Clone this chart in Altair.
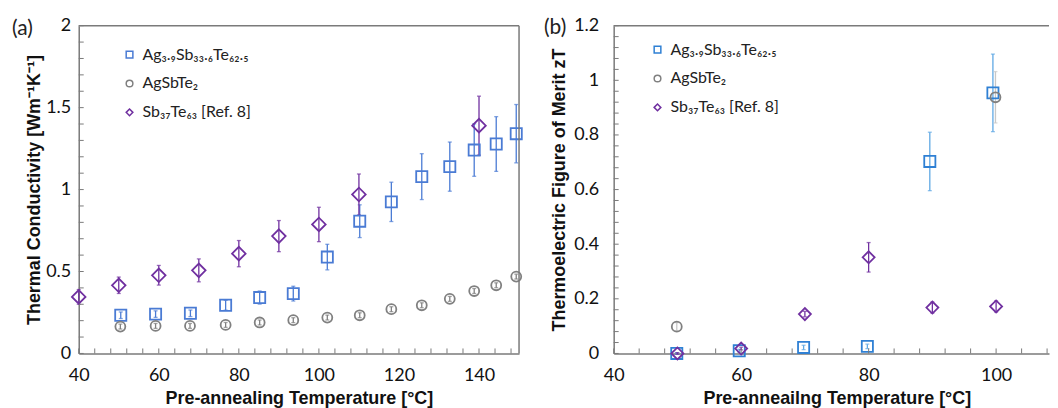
import altair as alt
import pandas as pd

SERIES = ["Ag₃.₉Sb₃₃.₆Te₆₂.₅", "AgSbTe₂", "Sb₃₇Te₆₃ [Ref. 8]"]
SHAPES = ["square", "circle", "diamond"]

# ---------------- Panel (a): thermal conductivity ----------------
a_ag_T = [50.5, 59.2, 67.9, 76.7, 85.2, 93.6, 102.1, 110.2, 118.1, 125.7, 132.7, 138.8, 144.3, 149.3]
a_ag_v = [0.233, 0.240, 0.245, 0.294, 0.341, 0.365, 0.588, 0.807, 0.925, 1.079, 1.140, 1.241, 1.278, 1.341]
a_ag_e = [0.020, 0.020, 0.020, 0.030, 0.040, 0.045, 0.078, 0.100, 0.120, 0.140, 0.150, 0.160, 0.167, 0.178]

a_agsbte_T = [50.4, 59.2, 67.8, 76.7, 85.2, 93.6, 102.1, 110.2, 118.1, 125.7, 132.7, 138.8, 144.3, 149.3]
a_agsbte_v = [0.164, 0.168, 0.168, 0.174, 0.189, 0.203, 0.219, 0.233, 0.270, 0.294, 0.333, 0.381, 0.416, 0.469]
a_agsbte_e = [0.015, 0.015, 0.015, 0.015, 0.015, 0.015, 0.015, 0.015, 0.015, 0.015, 0.015, 0.015, 0.015, 0.015]

a_sbte_T = [40, 50, 60, 70, 80, 90, 100, 110, 140]
a_sbte_v = [0.345, 0.416, 0.477, 0.507, 0.609, 0.716, 0.787, 0.970, 1.390]
a_sbte_e = [0.045, 0.050, 0.060, 0.070, 0.080, 0.095, 0.105, 0.125, 0.180]

# ---------------- Panel (b): figure of merit zT ----------------
b_ag_T = [49.9, 59.7, 69.8, 79.8, 89.6, 99.5]
b_ag_v = [0.000, 0.010, 0.022, 0.026, 0.703, 0.954]
b_ag_e = [0.003, 0.005, 0.008, 0.008, 0.107, 0.142]

b_agsbte_T = [49.9, 99.9]
b_agsbte_v = [0.098, 0.938]
b_agsbte_e = [0.015, 0.094]

b_sbte_T = [50, 60, 70, 80, 90, 100]
b_sbte_v = [0.000, 0.018, 0.144, 0.352, 0.168, 0.172]
b_sbte_e = [0.003, 0.005, 0.010, 0.054, 0.020, 0.020]

# axis ticks
a_x_labels = [40, 60, 80, 100, 120, 140]
a_y_labels = [0, 0.5, 1, 1.5, 2]
a_x_minor = list(range(40, 151, 4))
a_y_minor = [i / 10 for i in range(0, 21)]
b_x_labels = [40, 60, 80, 100]
b_y_labels = [0, 0.2, 0.4, 0.6, 0.8, 1, 1.2]
b_x_minor = list(range(40, 109, 4))
b_y_minor = [i * 0.04 for i in range(0, 31)]

AX = "#7a7a7a"


def long_df(groups):
    rows = []
    for name, T, v, e in groups:
        for t, vv, ee in zip(T, v, e):
            rows.append({"series": name, "T": t, "v": vv, "lo": vv - ee, "hi": vv + ee})
    return pd.DataFrame(rows)


def panel(df, tag, xdom, ydom, W, H, xlab, ylab, xminor, yminor, xtitle, ytitle,
          colors, errcolors, sizes, lx, ly, rowpad, ylabpad, ytitlepad, tagx, tagy,
          xtitlex=None, right_border=True):
    xs = alt.Scale(domain=xdom, nice=False, zero=False)
    ys = alt.Scale(domain=ydom, nice=False, zero=False)
    cs = alt.Scale(domain=SERIES, range=colors)
    ss = alt.Scale(domain=SERIES, range=SHAPES)
    leg = alt.Legend(title=None, orient="none", legendX=lx, legendY=ly, rowPadding=rowpad)
    xaxis_kw = dict(values=xlab, title=xtitle, ticks=False, grid=False, format="d",
                    labelPadding=13, titlePadding=5, labelFlush=False, labelOverlap=False)
    if xtitlex is not None:
        xaxis_kw["titleX"] = xtitlex
    xaxis = alt.Axis(**xaxis_kw)
    yaxis = alt.Axis(values=ylab, title=ytitle, ticks=False, grid=False, format="~g",
                     labelPadding=ylabpad, titlePadding=ytitlepad, labelFlush=False,
                     labelOverlap=False)
    base = alt.Chart(df)
    layers = []
    one = pd.DataFrame({"t": [tag]})
    # error bars
    for name, col in zip(SERIES, errcolors):
        sub = base.transform_filter(alt.datum.series == name)
        layers.append(sub.mark_rule(strokeWidth=1.3, color=col).encode(
            x=alt.X("T:Q", scale=xs), y=alt.Y("lo:Q", scale=ys), y2="hi:Q"))
        layers.append(sub.transform_fold(["lo", "hi"], as_=["end", "yv"]).mark_tick(
            orient="horizontal", size=4, thickness=1.3, color=col).encode(
            x=alt.X("T:Q", scale=xs), y=alt.Y("yv:Q", scale=ys)))
    # markers
    for i, (name, sz) in enumerate(zip(SERIES, sizes)):
        sub = base.transform_filter(alt.datum.series == name)
        xenc = alt.X("T:Q", scale=xs, axis=xaxis) if i == 0 else alt.X("T:Q", scale=xs)
        yenc = alt.Y("v:Q", scale=ys, axis=yaxis) if i == 0 else alt.Y("v:Q", scale=ys)
        layers.append(sub.mark_point(filled=False, strokeWidth=1.8, opacity=1, size=sz).encode(
            x=xenc, y=yenc,
            color=alt.Color("series:N", scale=cs, legend=leg),
            shape=alt.Shape("series:N", scale=ss, legend=leg),
        ))
    # inward minor ticks and frame
    layers.append(alt.Chart(pd.DataFrame({"t": yminor})).mark_rule(color=AX, strokeWidth=1).encode(
        y=alt.Y("t:Q", scale=ys), x=alt.value(0), x2=alt.value(5)))
    layers.append(alt.Chart(pd.DataFrame({"t": xminor})).mark_rule(color=AX, strokeWidth=1).encode(
        x=alt.X("t:Q", scale=xs), y=alt.value(H), y2=alt.value(H - 5)))
    layers.append(alt.Chart(one).mark_rule(color=AX, strokeWidth=1.5).encode(
        x=alt.value(0), x2=alt.value(W), y=alt.value(0)))
    if right_border:
        layers.append(alt.Chart(one).mark_rule(color=AX, strokeWidth=1.5).encode(
            x=alt.value(W), y=alt.value(0), y2=alt.value(H)))
    layers.append(alt.Chart(one).mark_text(align="left", baseline="middle", font="Lato",
                                           fontSize=21, color="#222").encode(
        text="t:N", x=alt.value(tagx), y=alt.value(tagy)))
    return alt.layer(*layers).properties(width=W, height=H)


df_a = long_df([
    (SERIES[0], a_ag_T, a_ag_v, a_ag_e),
    (SERIES[1], a_agsbte_T, a_agsbte_v, a_agsbte_e),
    (SERIES[2], a_sbte_T, a_sbte_v, a_sbte_e),
])
df_b = long_df([
    (SERIES[0], b_ag_T, b_ag_v, b_ag_e),
    (SERIES[1], b_agsbte_T, b_agsbte_v, b_agsbte_e),
    (SERIES[2], b_sbte_T, b_sbte_v, b_sbte_e),
])

left = panel(df_a, "(a)", [40, 150], [0, 2], 442, 329, a_x_labels, a_y_labels, a_x_minor, a_y_minor,
             "Pre-annealing Temperature [°C]", "Thermal Conductivity [Wm⁻¹K⁻¹]",
             ["#4a7bd4", "#808080", "#7030a0"], ["#4a7bd4", "#808080", "#7030a0"], [125, 100, 185],
             43, 21, 13, 8, 2, -67, 3)
right = panel(df_b, "(b)", [40, 108.3], [0, 1.2], 437, 329, b_x_labels, b_y_labels, b_x_minor, b_y_minor,
              "Pre-anneailng Temperature [°C]", "Thermoelectric Figure of Merit zT",
              ["#2f80d4", "#808080", "#7030a0"], ["#5fa8e4", "#c8c8c8", "#7030a0"], [125, 100, 145],
              36, 16, 13, 15, 5, -70, 2, xtitlex=224, right_border=False)

chart = alt.hconcat(left, right, spacing=18).properties(
    padding={"left": 4, "top": 8, "right": 0, "bottom": 0}
).resolve_scale(color="independent", shape="independent"
).resolve_legend(color="independent", shape="independent").configure_view(stroke=None).configure_axis(
    domainColor=AX, domainWidth=1.5, labelFont="Lato", labelFontSize=18, labelColor="#111",
    titleFont="Liberation Sans", titleFontSize=18, titleFontWeight="bold", titleColor="#111",
    grid=False, ticks=False,
).configure_legend(
    labelFont="Lato, Noto Sans", labelFontSize=16, labelColor="#222", symbolStrokeWidth=1.5,
    symbolSize=45, labelOffset=5,
)

chart.save("out.html", embed_options={"renderer": "svg", "actions": False})
